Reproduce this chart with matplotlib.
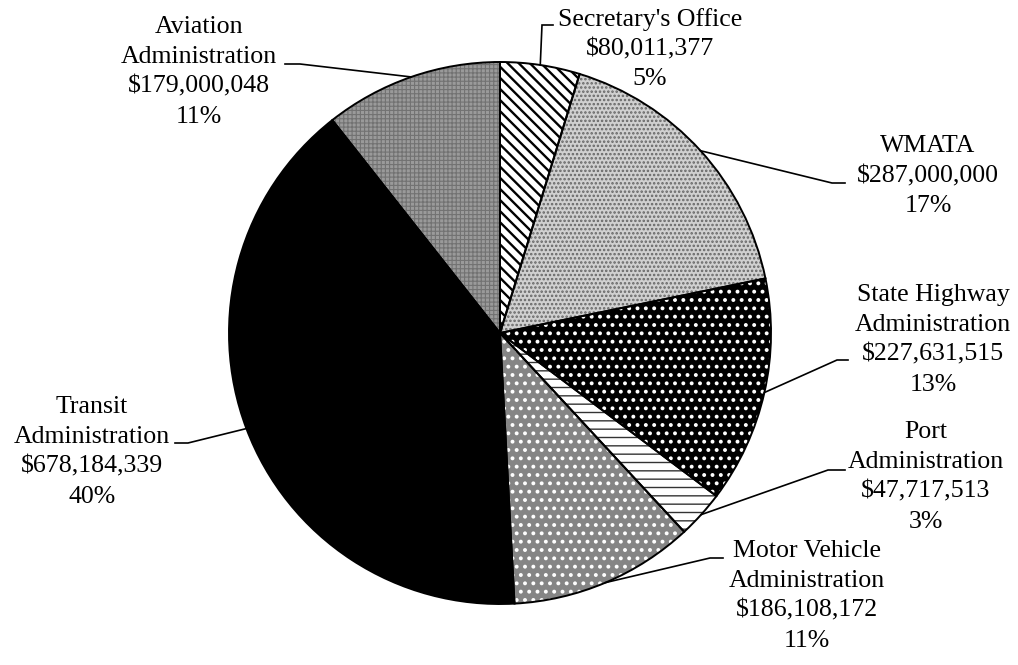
import matplotlib
matplotlib.use("Agg")
import matplotlib.pyplot as plt
import numpy as np

# ---- data ----
categories = ["Secretary's Office", "WMATA", "State Highway\nAdministration",
              "Port\nAdministration", "Motor Vehicle\nAdministration",
              "Transit\nAdministration", "Aviation\nAdministration"]
amounts = [80011377, 287000000, 227631515, 47717513, 186108172, 678184339, 179000048]
percent_labels = ["5%", "17%", "13%", "3%", "11%", "40%", "11%"]

# ---- styles (face, hatch, hatch colour, hatch lw) ----
faces = ["white", "#d0d0d0", "black", "white", "#858585", "black", "#9a9a9a"]
hatches = ["\\\\\\", "....", "..", "--", "..", None, "++++"]
hatch_cols = ["black", "#666666", "white", "#333333", "white", "black", "#727272"]
hatch_lws = [1.7, 1.2, 1.6, 1.0, 1.6, 1.0, 0.8]

# layout in pixel coords (y from top)
W, H = 1018, 665
cx, cy_top, R = 500, 333, 271
text_pos = [(650, 49), (928, 176), (933, 340), (926, 477), (807, 596), (92, 452), (199, 72)]
elbows = [((542, 25), (553, 25)), ((832, 183), (845, 183)), ((837, 360), (848, 360)),
          ((828, 470), (845, 470)), ((710, 558), (723, 558)), ((188, 443), (175, 443)),
          ((300, 64), (285, 64))]

fig = plt.figure(figsize=(W / 100, H / 100), dpi=100)
ax = fig.add_axes([0, 0, 1, 1])
center = (cx, H - cy_top)

wedges, _ = ax.pie(amounts, startangle=90, counterclock=False, center=center,
                   radius=R, frame=True, colors=faces,
                   wedgeprops=dict(linewidth=0))
for w, h, hc, hl in zip(wedges, hatches, hatch_cols, hatch_lws):
    w.set_edgecolor(hc)
    if h:
        w.set_hatch(h)
        if hasattr(w, "set_hatch_linewidth"):
            w.set_hatch_linewidth(hl)

# outlines
outl, _ = ax.pie(amounts, startangle=90, counterclock=False, center=center,
                 radius=R, frame=True,
                 wedgeprops=dict(fill=False, edgecolor="black", linewidth=1.4))

for i, w in enumerate(wedges):
    mid = np.deg2rad((w.theta1 + w.theta2) / 2)
    ex = center[0] + R * np.cos(mid)
    ey = center[1] + R * np.sin(mid)
    (e1x, e1y), (e2x, e2y) = elbows[i]
    ax.plot([ex, e1x, e2x], [ey, H - e1y, H - e2y], color="black", lw=1.2,
            solid_joinstyle="miter")
    label = f"{categories[i]}\n${amounts[i]:,}\n{percent_labels[i]}"
    tx, ty = text_pos[i]
    ax.text(tx, H - ty, label, ha="center", va="center", multialignment="center",
            fontsize=18.6, family="Liberation Serif", linespacing=1.45)

ax.set_xlim(0, W)
ax.set_ylim(0, H)
ax.set_aspect("equal")
ax.axis("off")
fig.savefig("out.png", dpi=100)
